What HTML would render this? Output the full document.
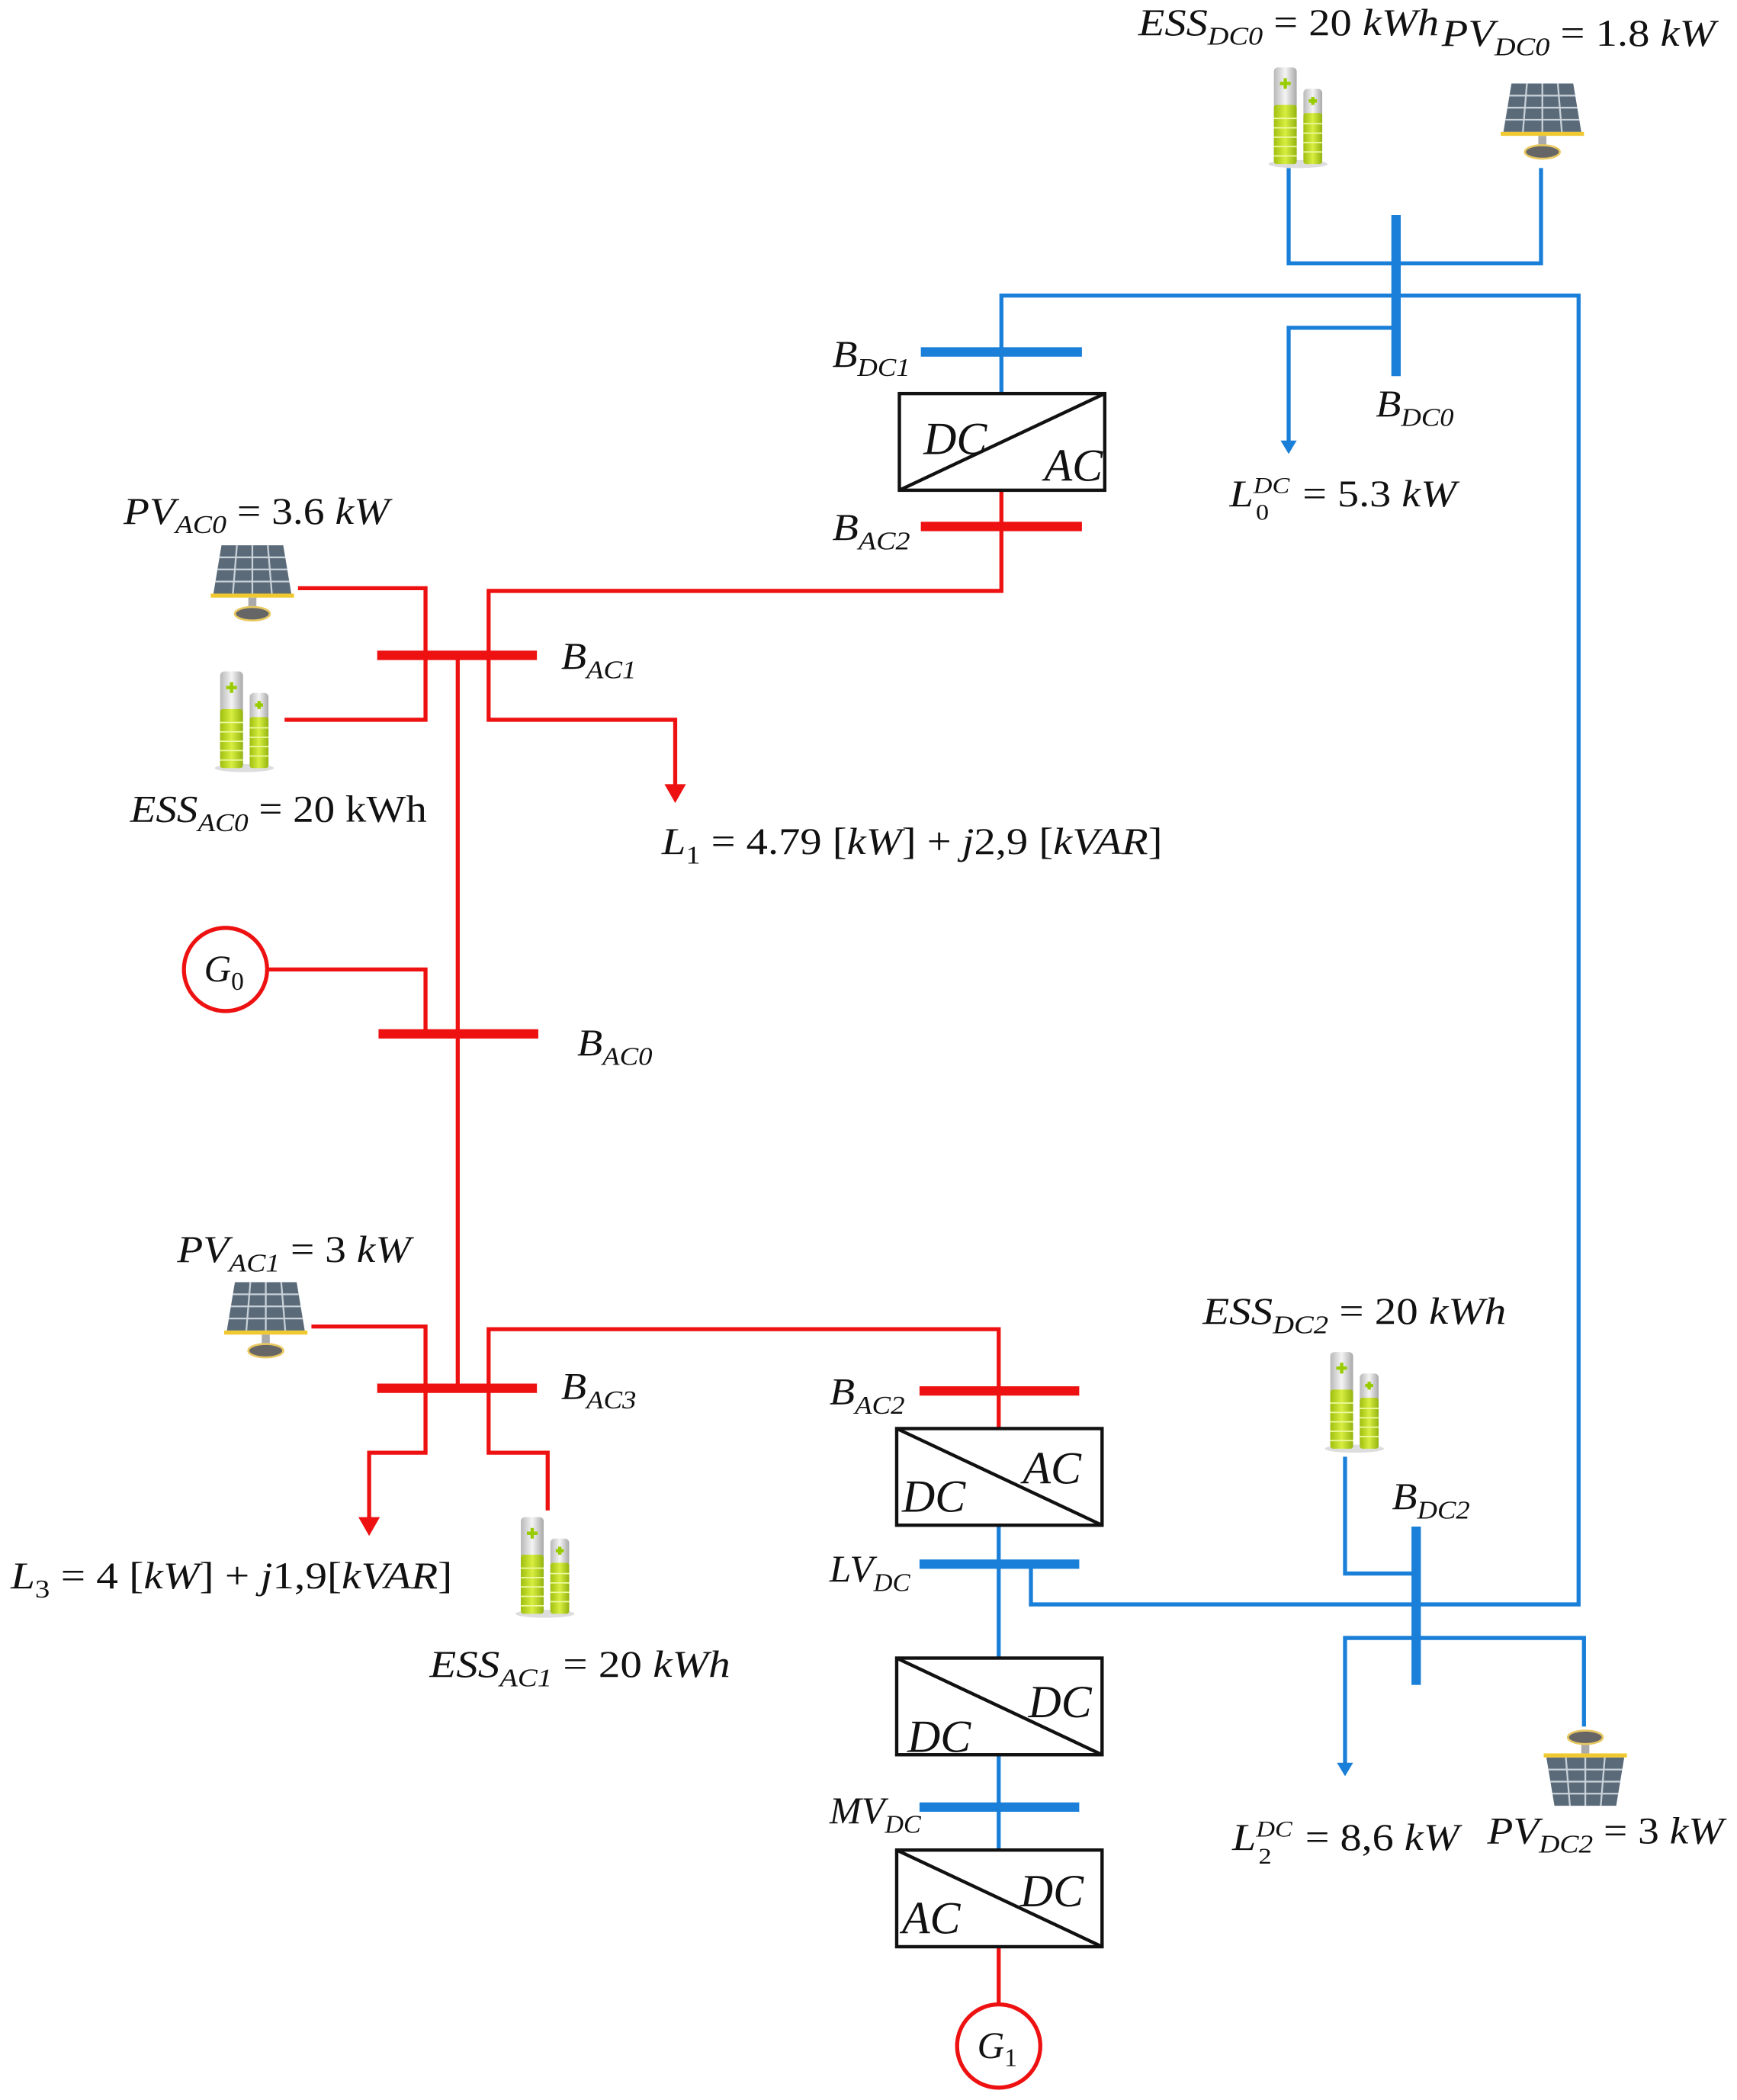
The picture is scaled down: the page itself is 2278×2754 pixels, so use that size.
<!DOCTYPE html>
<html><head><meta charset="utf-8"><style>
html,body{margin:0;padding:0;background:#fff}
svg{display:block}
text{font-family:"Liberation Serif",serif;font-style:italic;fill:#111}
.n{font-style:normal}
</style></head><body>
<svg width="2278" height="2754" viewBox="0 0 1294 1564" xmlns="http://www.w3.org/2000/svg">
<defs>
<linearGradient id="sil" x1="0" x2="1"><stop offset="0" stop-color="#b8b8b8"/><stop offset=".5" stop-color="#f4f4f4"/><stop offset="1" stop-color="#a8a8a8"/></linearGradient>
<linearGradient id="grn" x1="0" x2="1"><stop offset="0" stop-color="#9fbf10"/><stop offset=".5" stop-color="#d8ee40"/><stop offset="1" stop-color="#94b410"/></linearGradient>
<g id="bat">
<ellipse cx="22" cy="74" rx="22" ry="3" fill="#ddd"/>
<rect x="4" y="2" width="17" height="72" rx="3" fill="url(#sil)"/>
<rect x="4" y="30" width="17" height="44" rx="2" fill="url(#grn)"/>
<rect x="26" y="18" width="14" height="56" rx="3" fill="url(#sil)"/>
<rect x="26" y="36" width="14" height="38" rx="2" fill="url(#grn)"/>
<path d="M12.5 10v8M8.5 14h8M33 24v6M30 27h6" stroke="#9c0" stroke-width="2.5"/>
<path d="M4 40h17M4 47h17M4 54h17M4 61h17M4 68h17M26 44h14M26 51h14M26 58h14M26 65h14" stroke="#eef8a0" stroke-width="1"/>
</g>
<g id="pv">
<polygon points="8,0 54,0 60,36 2,36" fill="#5a6a78"/>
<path d="M19.5,0 L16.5,36 M31,0 L31,36 M42.5,0 L45.5,36 M6.5,9 H55.5 M5,18 H57 M3.5,27 H58.5" stroke="#c8d0d8" stroke-width="1.3"/>
<rect x="0" y="36" width="62" height="3" fill="#f0c830"/>
<rect x="28" y="39" width="6" height="10" fill="#aaa"/>
<ellipse cx="31" cy="51" rx="13" ry="5" fill="#666" stroke="#e8c860" stroke-width="1.5"/>
</g>
</defs>

<!-- DC blue -->
<g fill="none" stroke="#1a7fd8" stroke-width="3">
<polyline points="960,125 960,196 1148,196 1148,125"/>
<polyline points="746,293 746,220 1176,220 1176,1195 768,1195 768,1165"/>
<polyline points="1040,244 960,244 960,330"/>
<polyline points="744,1136 744,1235"/>
<polyline points="744,1307 744,1378"/>
<polyline points="1002,1085 1002,1172 1055,1172"/>
<polyline points="1055,1220 1002,1220 1002,1315"/>
<polyline points="1055,1220 1180,1220 1180,1286"/>
</g>
<path d="M954,328 L966,328 L960,338z M996,1313 L1008,1313 L1002,1323z" fill="#1a7fd8"/>
<g stroke="#1a7fd8" stroke-width="7">
<line x1="1040" y1="160" x2="1040" y2="280"/>
<line x1="686" y1="262" x2="806" y2="262"/>
<line x1="685" y1="1165" x2="804" y2="1165"/>
<line x1="685" y1="1346" x2="804" y2="1346"/>
<line x1="1055" y1="1137" x2="1055" y2="1255"/>
</g>

<!-- AC red -->
<g fill="none" stroke="#ee1111" stroke-width="3">
<polyline points="746,365 746,440 364,440 364,536 503,536 503,588"/>
<polyline points="222,438 317,438 317,536 212,536"/>
<line x1="341" y1="488" x2="341" y2="1034"/>
<polyline points="199,722 317,722 317,770"/>
<polyline points="232,988 317,988 317,1082 275,1082 275,1134"/>
<polyline points="364,1034 364,990 744,990 744,1064"/>
<polyline points="364,1034 364,1082 408,1082 408,1125"/>
<line x1="744" y1="1450" x2="744" y2="1493"/>
<circle cx="168" cy="722" r="31"/>
<circle cx="744" cy="1524" r="31"/>
</g>
<path d="M495,584 L511,584 L503,598z M267,1130 L283,1130 L275,1144z" fill="#ee1111"/>
<g stroke="#ee1111" stroke-width="7">
<line x1="686" y1="392" x2="806" y2="392"/>
<line x1="281" y1="488" x2="400" y2="488"/>
<line x1="282" y1="770" x2="401" y2="770"/>
<line x1="281" y1="1034" x2="400" y2="1034"/>
<line x1="685" y1="1036" x2="804" y2="1036"/>
</g>

<!-- converters -->
<g fill="#fff" stroke="#111" stroke-width="2.5">
<rect x="670" y="293" width="153" height="72"/>
<rect x="668" y="1064" width="153" height="72"/>
<rect x="668" y="1235" width="153" height="72"/>
<rect x="668" y="1378" width="153" height="72"/>
</g>
<g stroke="#111" stroke-width="2.5">
<line x1="670" y1="365" x2="823" y2="293"/>
<line x1="668" y1="1064" x2="821" y2="1136"/>
<line x1="668" y1="1235" x2="821" y2="1307"/>
<line x1="668" y1="1378" x2="821" y2="1450"/>
</g>
<g font-size="34">
<text x="688" y="338">DC</text><text x="778" y="358">AC</text>
<text x="762" y="1105">AC</text><text x="672" y="1126">DC</text>
<text x="766" y="1279">DC</text><text x="676" y="1305">DC</text>
<text x="760" y="1420">DC</text><text x="672" y="1440">AC</text>
</g>

<!-- icons -->
<use href="#bat" x="945" y="48"/>
<use href="#pv" x="1118" y="62"/>
<use href="#pv" x="157" y="406"/>
<use href="#bat" x="160" y="498"/>
<use href="#pv" x="167" y="955"/>
<use href="#bat" x="384" y="1128"/>
<use href="#bat" x="987" y="1005"/>
<use href="#pv" transform="translate(1212,1345) rotate(180)"/>

<!-- labels -->
<g font-size="28">
<text x="848" y="26" textLength="224" lengthAdjust="spacingAndGlyphs">ESS<tspan font-size="19" dy="7">DC0</tspan><tspan dy="-7" class="n"> = 20 </tspan>kWh</text>
<text x="1074" y="34" textLength="204" lengthAdjust="spacingAndGlyphs">PV<tspan font-size="19" dy="7">DC0</tspan><tspan dy="-7" class="n"> = 1.8 </tspan>kW</text>
<text x="620" y="273" textLength="58" lengthAdjust="spacingAndGlyphs">B<tspan font-size="19" dy="7">DC1</tspan></text>
<text x="1025" y="310" textLength="58" lengthAdjust="spacingAndGlyphs">B<tspan font-size="19" dy="7">DC0</tspan></text>
<text x="916" y="377" textLength="169" lengthAdjust="spacingAndGlyphs">L<tspan font-size="17" dy="-10">DC</tspan><tspan font-size="17" dx="-22" dy="20" class="n">0</tspan><tspan dy="-10" dx="22" class="n">= 5.3 </tspan>kW</text>
<text x="620" y="402" textLength="58" lengthAdjust="spacingAndGlyphs">B<tspan font-size="19" dy="7">AC2</tspan></text>
<text x="92" y="390" textLength="198" lengthAdjust="spacingAndGlyphs">PV<tspan font-size="19" dy="7">AC0</tspan><tspan dy="-7" class="n"> = 3.6 </tspan>kW</text>
<text x="418" y="498" textLength="56" lengthAdjust="spacingAndGlyphs">B<tspan font-size="19" dy="7">AC1</tspan></text>
<text x="97" y="612" textLength="221" lengthAdjust="spacingAndGlyphs">ESS<tspan font-size="19" dy="7">AC0</tspan><tspan dy="-7" class="n"> = 20 kWh</tspan></text>
<text x="493" y="636" textLength="373" lengthAdjust="spacingAndGlyphs">L<tspan font-size="19" dy="7" class="n">1</tspan><tspan dy="-7" class="n"> = 4.79 [</tspan>kW<tspan class="n">] + </tspan>j<tspan class="n">2,9 [</tspan>kVAR<tspan class="n">]</tspan></text>
<text x="152" y="731">G<tspan font-size="19" dy="6" class="n">0</tspan></text>
<text x="430" y="786" textLength="56" lengthAdjust="spacingAndGlyphs">B<tspan font-size="19" dy="7">AC0</tspan></text>
<text x="132" y="940" textLength="174" lengthAdjust="spacingAndGlyphs">PV<tspan font-size="19" dy="7">AC1</tspan><tspan dy="-7" class="n"> = 3 </tspan>kW</text>
<text x="418" y="1042" textLength="56" lengthAdjust="spacingAndGlyphs">B<tspan font-size="19" dy="7">AC3</tspan></text>
<text x="618" y="1046" textLength="56" lengthAdjust="spacingAndGlyphs">B<tspan font-size="19" dy="7">AC2</tspan></text>
<text x="896" y="986" textLength="226" lengthAdjust="spacingAndGlyphs">ESS<tspan font-size="19" dy="7">DC2</tspan><tspan dy="-7" class="n"> = 20 </tspan>kWh</text>
<text x="1037" y="1124" textLength="58" lengthAdjust="spacingAndGlyphs">B<tspan font-size="19" dy="7">DC2</tspan></text>
<text x="618" y="1178" textLength="60" lengthAdjust="spacingAndGlyphs">LV<tspan font-size="19" dy="7">DC</tspan></text>
<text x="8" y="1183" textLength="329" lengthAdjust="spacingAndGlyphs">L<tspan font-size="19" dy="7" class="n">3</tspan><tspan dy="-7" class="n"> = 4 [</tspan>kW<tspan class="n">] + </tspan>j<tspan class="n">1,9[</tspan>kVAR<tspan class="n">]</tspan></text>
<text x="320" y="1249" textLength="224" lengthAdjust="spacingAndGlyphs">ESS<tspan font-size="19" dy="7">AC1</tspan><tspan dy="-7" class="n"> = 20 </tspan>kWh</text>
<text x="618" y="1358" textLength="68" lengthAdjust="spacingAndGlyphs">MV<tspan font-size="19" dy="7">DC</tspan></text>
<text x="918" y="1378" textLength="169" lengthAdjust="spacingAndGlyphs">L<tspan font-size="17" dy="-10">DC</tspan><tspan font-size="17" dx="-22" dy="20" class="n">2</tspan><tspan dy="-10" dx="22" class="n">= 8,6 </tspan>kW</text>
<text x="1108" y="1373" textLength="176" lengthAdjust="spacingAndGlyphs">PV<tspan font-size="19" dy="7">DC2</tspan><tspan dy="-7" class="n"> = 3 </tspan>kW</text>
<text x="728" y="1533">G<tspan font-size="19" dy="6" class="n">1</tspan></text>
</g>
</svg>
</body></html>
